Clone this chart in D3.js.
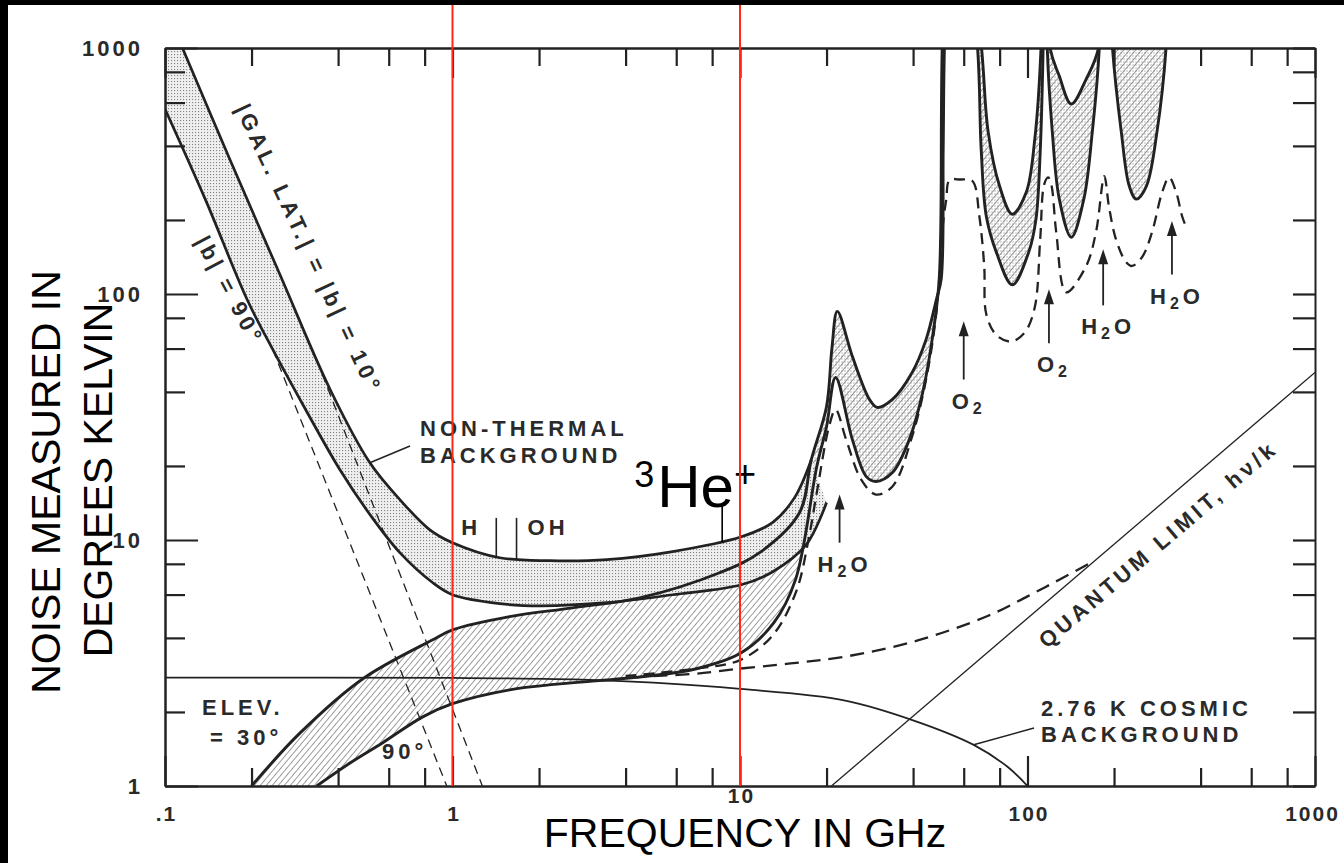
<!DOCTYPE html>
<html><head><meta charset="utf-8">
<script src="https://cdn.jsdelivr.net/npm/d3@7"></script>
<style>body{margin:0;background:#000;} svg{display:block}</style>
</head><body>
<svg id="c" width="1344" height="863"></svg>
<script>
// ---------- DATA ----------
const xTickValues = [0.1, 1, 10, 100, 1000];
const xTickLabels = [".1", "1", "10", "100", "1000"];
const yTickValues = [1, 10, 100, 1000];
const yTickLabels = ["1", "10", "100", "1000"];
const minorMultipliers = [2, 4, 6, 8];

// |b| = 10 deg galactic background (upper edge of stippled band) [GHz, K]
const galLat10 = [[0.115,1000],[0.168,353],[0.251,120],[0.375,41],[0.516,20.6],[0.656,14.6],
  [0.834,11.0],[1.0,9.75],[1.46,8.47],[2.18,8.24],[3.44,8.32],[5.83,8.97],[10.1,10.3],
  [13.0,11.8],[15.5,14.9],[17.7,21.2]];
// |b| = 90 deg galactic background (lower edge of stippled band)
const galLat90 = [[0.1,565],[0.138,243],[0.193,95],[0.237,59.5],[0.311,33.3],[0.406,19.3],
  [0.516,12.7],[0.656,8.88],[0.854,6.70],[1.0,5.99],[1.46,5.51],[2.01,5.40],[3.44,5.56],
  [5.83,5.99],[10.1,6.58],[13.0,7.43],[17.0,9.57],[20.0,14.2]];
// elevation 30 deg atmosphere (upper hatched edge), continuing through the absorption lines
const elev30 = [[0.2,1],[0.2945,1.64],[0.488,2.73],[0.854,3.93],[1.0,4.31],[1.58,4.88],[2.62,5.30],
  [4.48,5.82],[8.49,7.36],[11.7,8.88],[16.1,12.9],[17.7,21.2],[20.0,34.9],[20.9,61],[21.8,85],
  [24.6,55.7],[28.2,37.3],[30.0,34.6],[33.9,37.3],[39.7,48],[44.4,65.4],[48.2,95],[50.1,115],
  [50.9,388],[51.4,1000],[55,10000],[69,1040],[73,455],[80,274],[88.5,211],[99,259],[106,426],
  [111.6,1040],[115,10000],[119,1040],[129,769],[142,592],[160,748],[178,1040],[185,10000],[330,10000]];
// elevation 90 deg atmosphere (lower hatched edge)
const elev90 = [[0.337,1],[0.44,1.24],[0.572,1.50],[0.788,1.91],[1.0,2.16],[1.58,2.46],[2.36,2.60],
  [4.55,2.78],[7.0,2.99],[10.1,3.48],[13.1,4.6],[15.6,6.9],[18.5,19.9],[20.0,28.9],[21.5,45.8],
  [24.6,25.6],[27.5,18.1],[29.7,17.3],[33.9,18.8],[38.8,25.6],[43.2,39.8],[46.6,65.4],[49.3,115],
  [50.5,1000],[54,10000],[66.9,1040],[69,388],[71.9,207],[77.9,148],[88.5,109],[101,148],[107,201],
  [110.7,377],[113.4,1040],[116,10000],[117,1040],[122,455],[129,243],[142,170],[157,243],[168,455],
  [178,1040],[182,10000],[197,1040],[212,455],[226,274],[239,243],[259,274],[282,455],[304,1040],[320,10000]];
// long-dashed atmospheric curve through the lines
const atmDashed = [[4,2.8],[7,3.0],[10,3.25],[13,4.1],[15.7,6.2],[17.3,10],[18.5,15.6],[20.4,28.9],
  [21.5,33.9],[23.4,25.6],[26.4,17.6],[29.7,15.3],[33.9,16.5],[39.7,26.4],[44.4,45],[48.2,84],
  [51,200],[52.2,243],[53.5,290],[58.4,292],[64.3,288],[68.0,207],[70.7,130],[71.9,82.7],[78,68],
  [87.8,64.1],[98,70],[106,88.3],[110.7,167],[114.3,279],[118,298],[121,279],[125.9,178],[136.3,101.6],
  [160,130],[173,178],[185,301],[192,227],[203,167],[220,135],[231,130],[251,142],[271,178],[294,259],
  [311,298],[329,259],[345,207],[359,183]];
// cosmic background plus quantum noise (dashed)
const cmbPlusQuantum = [[5,2.8],[7,2.86],[10,3.0],[15,3.15],[23,3.35],[41,3.89],[73,4.92],[100,5.9],[129,6.9],[170,8.2]];
// 2.76 K cosmic background
const cmb = [[0.1,2.76],[1,2.75],[3,2.7],[5,2.63],[10,2.48],[23,2.23],[40,1.85],[65,1.47],[85,1.2],[100,1.0]];
// quantum limit h nu / k
const quantum = [[20.8,1],[1000,48]];
// pure galactic power laws (thin dashed)
const galPow90 = [[0.237,59.5],[0.955,1]];
const galPow10 = [[0.337,54],[1.27,1]];
// spectral line markers
const lineMarkers = [
  {name:"H", f:1.42, t0:12.3, t1:8.47},
  {name:"OH", f:1.67, t0:12.3, t1:8.3},
  {name:"He3", f:8.67, t0:14.0, t1:9.8}
];
// absorption arrows
const arrows = [
  {mol:"H2O", f:22.2, tail:9.75, tip:15.3},
  {mol:"O2", f:60, tail:44.9, tip:77.4},
  {mol:"O2", f:118.75, tail:63, tip:104.5},
  {mol:"H2O", f:183.3, tail:89.9, tip:152},
  {mol:"H2O", f:318, tail:120, tip:198}
];
const bands = [1, 10]; // red marker lines (GHz)

// ---------- LAYOUT ----------
const svg = d3.select("#c");
const W = 1344, H = 863;
const L = 165, R = 1315, T = 48, B = 786;
const x = d3.scaleLog().domain([0.1, 1000]).range([L, R]);
const y = d3.scaleLog().domain([1, 1000]).range([B, T]);

svg.append("rect").attr("width", W).attr("height", H).attr("fill", "#000");
svg.append("rect").attr("x", 8).attr("y", 5).attr("width", W - 8).attr("height", H - 5).attr("fill", "#fff");

const defs = svg.append("defs");
defs.append("clipPath").attr("id", "plot").append("rect")
  .attr("x", L).attr("y", T).attr("width", R - L).attr("height", B - T);
defs.append("clipPath").attr("id", "hiF").append("rect")
  .attr("x", x(16)).attr("y", T).attr("width", R - x(16)).attr("height", B - T);
const hp = defs.append("pattern").attr("id", "hatch").attr("width", 4.6).attr("height", 4.6)
  .attr("patternUnits", "userSpaceOnUse").attr("patternTransform", "rotate(40)");
hp.append("line").attr("x1", 0).attr("y1", 0).attr("x2", 0).attr("y2", 4.6)
  .attr("stroke", "#3a3a3a").attr("stroke-width", 1);
const sp = defs.append("pattern").attr("id", "stip").attr("width", 3).attr("height", 3)
  .attr("patternUnits", "userSpaceOnUse");
sp.append("rect").attr("width", 3).attr("height", 3).attr("fill", "#efefef");
sp.append("rect").attr("width", 1.1).attr("height", 1.1).attr("fill", "#858585");
const dp = defs.append("pattern").attr("id", "dots").attr("width", 3).attr("height", 3)
  .attr("patternUnits", "userSpaceOnUse");
dp.append("rect").attr("x", 1.5).attr("y", 1.5).attr("width", 1).attr("height", 1).attr("fill", "#777");

const line = d3.line().x(d => x(d[0])).y(d => y(d[1])).curve(d3.curveCatmullRom.alpha(0.5));
const straight = d3.line().x(d => x(d[0])).y(d => y(d[1]));

const g = svg.append("g").attr("clip-path", "url(#plot)");

// hatched atmospheric band
const hatchD = line(elev30) + "L" + line(elev90.slice().reverse()).slice(1) + "Z";
g.append("path").attr("d", hatchD).attr("fill", "url(#hatch)");
g.append("g").attr("clip-path", "url(#hiF)").append("path").attr("d", hatchD).attr("fill", "url(#dots)");
// stippled galactic band
const stipD = line(galLat10) + "L" + line(galLat90.slice().reverse()).slice(1) +
  "L" + x(0.1) + "," + y(1000) + "Z";
g.append("path").attr("d", stipD).attr("fill", "url(#stip)");

const ink = "#222";
function curve(data, w, dash, gen) {
  g.append("path").attr("d", (gen || line)(data)).attr("fill", "none")
    .attr("stroke", ink).attr("stroke-width", w).attr("stroke-dasharray", dash || null)
    .attr("stroke-linejoin", "round");
}
curve(galLat10, 2.7);
curve(galLat90, 2.7);
curve(elev30, 2.9);
curve(elev90, 2.9);
curve(atmDashed, 2.3, "11,7");
curve(cmbPlusQuantum, 2.3, "14,8");
curve(cmb, 1.8);
curve(quantum, 1.3, null, straight);
curve(galPow90, 1.3, "9,6", straight);
curve(galPow10, 1.3, "9,6", straight);

// ---------- AXES ----------
const minors = [];
[0.1, 1, 10, 100].forEach(d => minorMultipliers.forEach(m => minors.push(d * m)));
const yMinors = [];
[1, 10, 100].forEach(d => minorMultipliers.forEach(m => yMinors.push(d * m)));

function styleAxis(sel) {
  sel.selectAll("path.domain").attr("stroke", ink).attr("stroke-width", 2);
  sel.selectAll(".tick line").attr("stroke", ink).attr("stroke-width", 2.2);
  sel.selectAll("text").attr("fill", "#2a2a2a").attr("font-family", "Liberation Sans, Arial, sans-serif")
    .attr("font-weight", "bold").attr("font-size", 22).attr("letter-spacing", 3);
}
const bx = svg.append("g").attr("transform", `translate(0,${B})`)
  .call(d3.axisBottom(x).tickValues(xTickValues).tickSize(-30).tickSizeOuter(0).tickPadding(20)
    .tickFormat((d, i) => xTickLabels[i]));
styleAxis(bx);
bx.selectAll("text").attr("font-size", 21).attr("letter-spacing", 2).attr("dx", 1);
bx.selectAll(".tick").filter(d => d === 1000).select("text").attr("dx", -3);
bx.selectAll(".tick").filter(d => d === 10).select("text").attr("y", 17).attr("dy", 0);
const bxm = svg.append("g").attr("transform", `translate(0,${B})`)
  .call(d3.axisBottom(x).tickValues(minors).tickSize(-18).tickSizeOuter(0).tickFormat(""));
styleAxis(bxm);
const tx = svg.append("g").attr("transform", `translate(0,${T})`)
  .call(d3.axisTop(x).tickValues(xTickValues).tickSize(-30).tickSizeOuter(0).tickFormat(""));
styleAxis(tx);
const txm = svg.append("g").attr("transform", `translate(0,${T})`)
  .call(d3.axisTop(x).tickValues(minors).tickSize(-18).tickSizeOuter(0).tickFormat(""));
styleAxis(txm);
const ly = svg.append("g").attr("transform", `translate(${L},0)`)
  .call(d3.axisLeft(y).tickValues(yTickValues).tickSize(-33).tickSizeOuter(0).tickPadding(22)
    .tickFormat((d, i) => yTickLabels[i]));
styleAxis(ly);
const lym = svg.append("g").attr("transform", `translate(${L},0)`)
  .call(d3.axisLeft(y).tickValues(yMinors).tickSize(-20).tickSizeOuter(0).tickFormat(""));
styleAxis(lym);
const ry = svg.append("g").attr("transform", `translate(${R},0)`)
  .call(d3.axisRight(y).tickValues(yTickValues.concat(yMinors)).tickSize(-22).tickSizeOuter(0).tickFormat(""));
styleAxis(ry);

// ---------- ANNOTATIONS ----------
const lab = (sel) => sel.attr("fill", "#2a2a2a").attr("font-family", "Liberation Sans, Arial, sans-serif")
  .attr("font-weight", "bold").attr("font-size", 22).attr("letter-spacing", 4);

// spectral line markers
lineMarkers.forEach(m => {
  svg.append("line").attr("x1", x(m.f)).attr("x2", x(m.f)).attr("y1", y(m.t0)).attr("y2", y(m.t1))
    .attr("stroke", m.name === "He3" ? "#000" : ink).attr("stroke-width", 1.6);
});
lab(svg.append("text").attr("x", x(1.42) - 35).attr("y", y(12.3) + 17).text("H"));
lab(svg.append("text").attr("x", x(1.67) + 11).attr("y", y(12.3) + 17).text("OH"));

// 3He+
const he = svg.append("text").attr("x", x(8.67) - 88).attr("y", y(14.0) + 3)
  .attr("font-family", "Liberation Sans, Arial, sans-serif").attr("fill", "#000");
he.append("tspan").attr("font-size", 36).attr("dy", -20).text("3");
he.append("tspan").attr("font-size", 60).attr("dy", 20).attr("dx", 3).text("He");
he.append("tspan").attr("font-size", 38).attr("dy", -20).text("+");

// NON-THERMAL BACKGROUND
lab(svg.append("text").attr("x", 420).attr("y", 436).text("NON-THERMAL"));
lab(svg.append("text").attr("x", 420).attr("y", 463).text("BACKGROUND"));
svg.append("line").attr("x1", 410).attr("y1", 446).attr("x2", x(0.516)).attr("y2", y(20.6))
  .attr("stroke", ink).attr("stroke-width", 1.5);

// galactic latitude labels
lab(svg.append("text").attr("transform", "translate(302,252) rotate(65)")
  .attr("text-anchor", "middle").attr("font-size", 19).attr("letter-spacing", 2).text("|GAL. LAT.| = |b| = 10°"));
lab(svg.append("text").attr("transform", "translate(223,294) rotate(62)")
  .attr("text-anchor", "middle").attr("font-size", 19).attr("letter-spacing", 2).text("|b| = 90°"));

// elevation labels
lab(svg.append("text").attr("x", 202).attr("y", 715).text("ELEV."));
lab(svg.append("text").attr("x", 210).attr("y", 745).text("= 30°"));
lab(svg.append("text").attr("x", 382).attr("y", 759).text("90°"));

// arrows
arrows.forEach(a => {
  const ax = x(a.f), y0 = y(a.tail), y1 = y(a.tip);
  svg.append("line").attr("x1", ax).attr("x2", ax).attr("y1", y0).attr("y2", y1 + 10)
    .attr("stroke", ink).attr("stroke-width", 1.8);
  svg.append("path").attr("d", `M${ax},${y1}L${ax - 5},${y1 + 15}L${ax + 5},${y1 + 15}Z`).attr("fill", ink);
  const t = lab(svg.append("text").attr("x", ax + 5).attr("y", y0 + 29).attr("text-anchor", "middle")
    .attr("letter-spacing", 2));
  if (a.mol === "H2O") {
    t.append("tspan").text("H");
    t.append("tspan").attr("font-size", 16).attr("dy", 5).text("2");
    t.append("tspan").attr("dy", -5).text("O");
  } else {
    t.append("tspan").text("O");
    t.append("tspan").attr("font-size", 16).attr("dy", 5).text("2");
  }
});

// quantum limit label
lab(svg.append("text").attr("transform", "translate(1163,550) rotate(-40.5)")
  .attr("text-anchor", "middle").attr("font-size", 21).attr("letter-spacing", 2).text("QUANTUM LIMIT, hν/k"));

// cosmic background label
lab(svg.append("text").attr("x", 1041).attr("y", 716).attr("letter-spacing", 3).text("2.76 K COSMIC"));
lab(svg.append("text").attr("x", 1041).attr("y", 742).attr("letter-spacing", 3).text("BACKGROUND"));
svg.append("line").attr("x1", 1034).attr("y1", 728).attr("x2", x(65)).attr("y2", y(1.47))
  .attr("stroke", ink).attr("stroke-width", 1.5);

// red band markers
bands.forEach(f => {
  svg.append("line").attr("x1", x(f)).attr("x2", x(f)).attr("y1", 5).attr("y2", B)
    .attr("stroke", "#ff2a10").attr("stroke-width", 2);
});

// axis titles
const title = (sel) => sel.attr("fill", "#000").attr("font-family", "Liberation Sans, Arial, sans-serif")
  .attr("font-size", 41).attr("text-anchor", "middle");
title(svg.append("text").attr("transform", "translate(60,482) rotate(-90)").text("NOISE MEASURED IN"));
title(svg.append("text").attr("transform", "translate(112,480) rotate(-90)").text("DEGREES KELVIN"));
title(svg.append("text").attr("x", 745).attr("y", 847).attr("font-size", 34).text("FREQUENCY IN GHz"));
</script>
</body></html>
